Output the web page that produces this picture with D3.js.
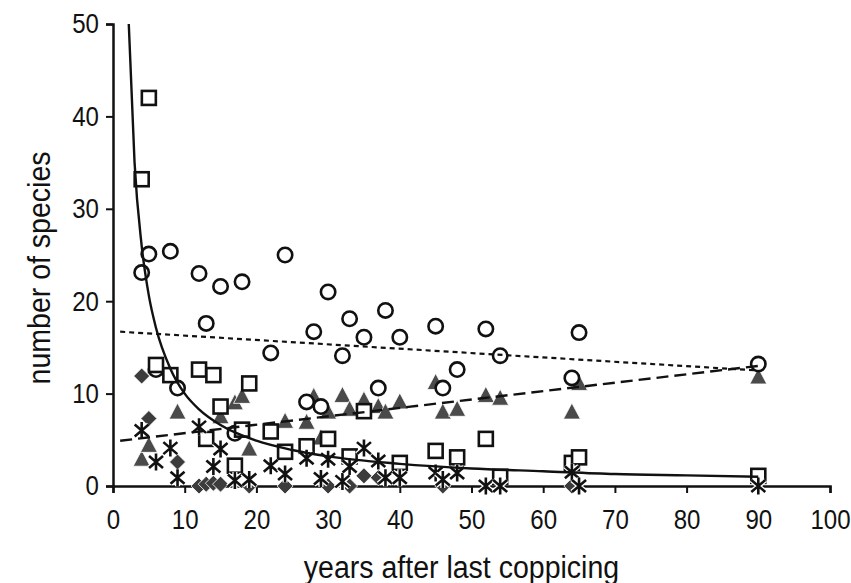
<!DOCTYPE html>
<html>
<head>
    <title>Species vs years after coppicing</title>
    <script src="https://d3js.org/d3.v7.min.js"></script>
    <style>
        body {
            margin: 0;
            background: #ffffff;
            font-family: "Liberation Sans", Arial, sans-serif;
        }
    </style>
</head>
<body>
<div id="chart"></div>
<script>
    // data: [years after last coppicing, number of species]
    const circles = [[4,23.1],[5,25.1],[6,12.6],[8,25.4],[9,10.6],[12,23.0],[13,17.6],[15,21.6],[17,5.7],[18,22.1],
        [22,14.4],[24,25.0],[27,9.1],[28,16.7],[29,8.6],[30,21.0],[32,14.1],[33,18.1],[35,16.1],[37,10.6],
        [38,19.0],[40,16.1],[45,17.3],[46,10.6],[48,12.6],[52,17.0],[54,14.1],[64,11.7],[65,16.6],[90,13.2]];
    const squares = [[4,33.2],[5,42.0],[6,13.1],[8,12.0],[12,12.6],[13,5.1],[14,12.0],[15,8.6],[17,2.2],[18,6.1],
        [19,11.1],[22,5.9],[24,3.7],[27,4.3],[30,5.1],[33,3.2],[35,8.1],[40,2.5],[45,3.8],[48,3.1],
        [52,5.1],[54,1.0],[64,2.5],[65,3.1],[90,1.1]];
    const triangles = [[4,2.9],[5,4.4],[9,8.0],[15,7.5],[17,9.0],[18,9.7],[19,4.0],[24,7.0],[27,6.9],[28,9.7],
        [29,5.2],[30,8.0],[32,9.8],[33,8.3],[35,9.3],[37,8.6],[38,8.0],[40,9.1],[45,11.2],[46,8.0],
        [48,8.3],[52,9.8],[54,9.5],[64,8.0],[65,11.1],[90,11.8]];
    const diamonds = [[4,11.9],[5,7.3],[9,2.6],[12,0],[13,0.2],[14,0.3],[15,0.2],[19,0],[24,0],[30,0],
        [33,0],[35,1.1],[37,0.9],[46,0],[64,0]];
    const asterisks = [[4,6.0],[6,2.6],[8,4.1],[9,0.9],[12,6.4],[14,2.1],[15,4.0],[17,0.6],[19,0.7],[22,2.2],
        [24,1.3],[27,3.0],[29,0.8],[30,2.9],[32,0.5],[33,2.1],[35,4.1],[37,2.7],[38,0.9],[40,0.9],
        [45,1.4],[46,0.7],[48,1.4],[52,0],[54,0],[64,1.5],[65,0],[90,0]];

    // trend lines
    const squareTrend = [[2.2,50],[3,35.1],[4,26.0],[5,20.6],[6,17.1],[8,12.7],[10,10.0],[12,8.3],[15,6.6],[20,4.9],
        [25,3.9],[30,3.2],[40,2.4],[50,1.9],[60,1.6],[70,1.3],[80,1.15],[90,1.0]];
    const circleTrend = [[1,16.7],[90,12.5]];
    const triangleTrend = [[1,4.9],[90,13.0]];

    const xTicks = [0, 10, 20, 30, 40, 50, 60, 70, 80, 90, 100];
    const yTicks = [0, 10, 20, 30, 40, 50];

    const width = 851;
    const height = 583;
    const margin = {top: 24, right: 21, bottom: 97, left: 113};

    const svg = d3.select("#chart")
        .append("svg")
        .attr("width", width)
        .attr("height", height);

    const x = d3.scaleLinear().domain([0, 100]).range([margin.left, width - margin.right]);
    const y = d3.scaleLinear().domain([0, 50]).range([height - margin.bottom, margin.top]);

    // axes
    const xAxis = svg.append("g")
        .attr("transform", "translate(0," + y(0) + ")")
        .call(d3.axisBottom(x).tickValues(xTicks).tickSizeOuter(0).tickSize(7).tickPadding(16));
    const yAxis = svg.append("g")
        .attr("transform", "translate(" + x(0) + ",0)")
        .call(d3.axisLeft(y).tickValues(yTicks).tickSizeOuter(0).tickSize(7).tickPadding(7));

    // the figure's lettering is narrow and tall, so squeeze it horizontally
    function narrow(sel) {
        sel.each(function () {
            const t = d3.select(this);
            const px = +t.attr("x") || 0;
            const py = +t.attr("y") || 0;
            t.attr("transform", "translate(" + px + "," + py + ") scale(0.86,1) translate(" + (-px) + "," + (-py) + ")");
        });
    }

    [xAxis, yAxis].forEach(function (ax) {
        ax.select(".domain").attr("stroke", "#111").attr("stroke-width", 2.5);
        ax.selectAll(".tick line").attr("stroke", "#111").attr("stroke-width", 2);
        ax.selectAll(".tick text")
            .attr("fill", "#111")
            .style("font-size", "28px")
            .style("font-family", "'Liberation Sans', Arial, sans-serif")
            .call(narrow);
    });

    // axis titles
    svg.append("text")
        .attr("transform", "translate(" + (x(50) - 10) + ",578) scale(0.92,1)")
        .attr("text-anchor", "middle")
        .attr("fill", "#111")
        .style("font-size", "31px")
        .text("years after last coppicing");

    svg.append("text")
        .attr("transform", "translate(50," + y(23.6) + ") rotate(-90) scale(0.92,1)")
        .attr("text-anchor", "middle")
        .attr("fill", "#111")
        .style("font-size", "31px")
        .text("number of species");

    const plot = svg.append("g");

    // triangles
    plot.selectAll(".tri")
        .data(triangles)
        .enter()
        .append("path")
        .attr("d", "M0,-9L8.5,7L-8.5,7Z")
        .attr("transform", d => "translate(" + x(d[0]) + "," + y(d[1]) + ")")
        .attr("fill", "#4a4a4a")
        .attr("stroke", "#fff")
        .attr("stroke-width", 0.8);

    // diamonds
    plot.selectAll(".dia")
        .data(diamonds)
        .enter()
        .append("path")
        .attr("d", "M0,-8L8,0L0,8L-8,0Z")
        .attr("transform", d => "translate(" + x(d[0]) + "," + y(d[1]) + ")")
        .attr("fill", "#3c3c3c")
        .attr("stroke", "#fff")
        .attr("stroke-width", 0.8);

    // circles
    plot.selectAll(".circ")
        .data(circles)
        .enter()
        .append("circle")
        .attr("cx", d => x(d[0]))
        .attr("cy", d => y(d[1]))
        .attr("r", 7.2)
        .attr("fill", "#fff")
        .attr("stroke", "#111")
        .attr("stroke-width", 2.6);

    // squares
    plot.selectAll(".sq")
        .data(squares)
        .enter()
        .append("rect")
        .attr("x", d => x(d[0]) - 7)
        .attr("y", d => y(d[1]) - 7)
        .attr("width", 14)
        .attr("height", 14)
        .attr("fill", "#fff")
        .attr("stroke", "#111")
        .attr("stroke-width", 2.6);

    // asterisks (vertical bar + X), white halo underneath
    const starPath = "M0,-8.5L0,8.5M-7,-6L7,6M-7,6L7,-6";
    const stars = plot.selectAll(".star")
        .data(asterisks)
        .enter()
        .append("g")
        .attr("transform", d => "translate(" + x(d[0]) + "," + y(d[1]) + ")");
    stars.append("path").attr("d", starPath).attr("stroke", "#fff").attr("stroke-width", 5);
    stars.append("path").attr("d", starPath).attr("stroke", "#111").attr("stroke-width", 2.6);

    // trend lines
    const line = d3.line()
        .x(d => x(d[0]))
        .y(d => y(d[1]))
        .curve(d3.curveMonotoneX);

    plot.append("path")
        .datum(squareTrend)
        .attr("d", line)
        .attr("fill", "none")
        .attr("stroke", "#111")
        .attr("stroke-width", 2.4);

    plot.append("path")
        .datum(circleTrend)
        .attr("d", line)
        .attr("fill", "none")
        .attr("stroke", "#111")
        .attr("stroke-width", 2.2)
        .attr("stroke-dasharray", "5,4");

    plot.append("path")
        .datum(triangleTrend)
        .attr("d", line)
        .attr("fill", "none")
        .attr("stroke", "#111")
        .attr("stroke-width", 2.4)
        .attr("stroke-dasharray", "12,6");
</script>
</body>
</html>
